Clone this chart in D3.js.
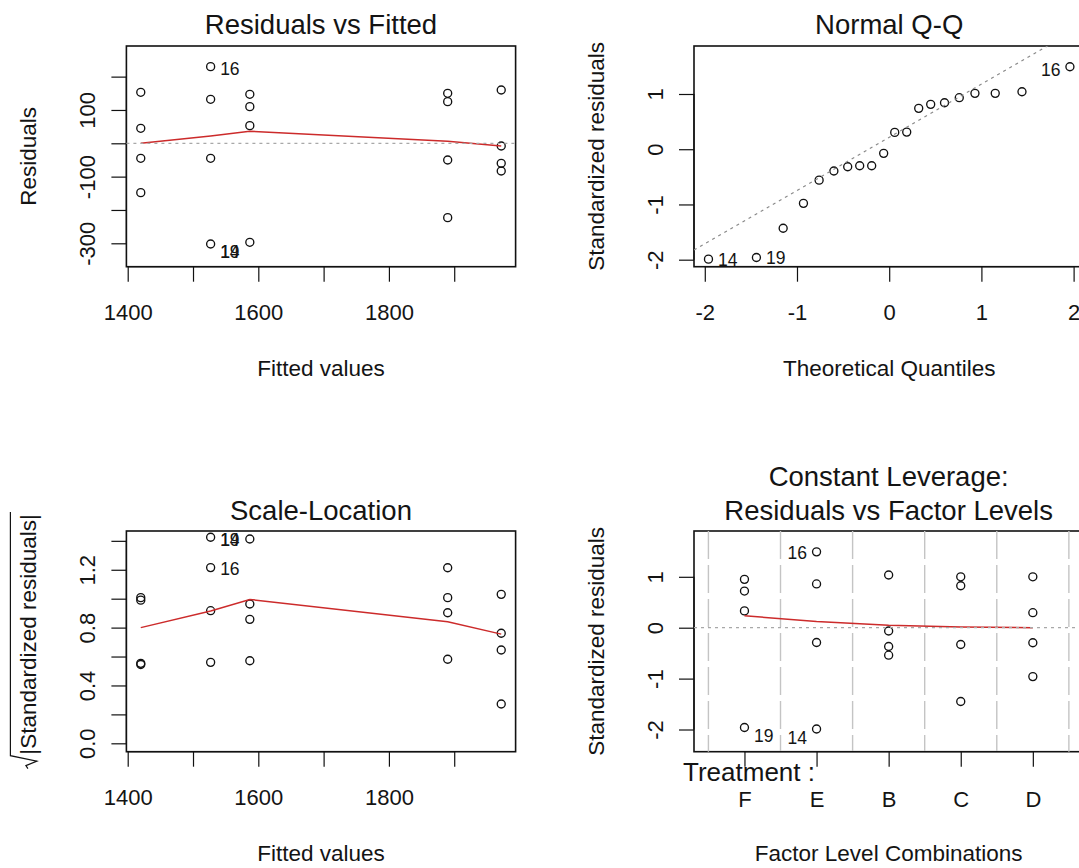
<!DOCTYPE html>
<html><head><meta charset="utf-8">
<script src="https://cdn.jsdelivr.net/npm/d3@7"></script>
<style>
body{margin:0;background:#fff}
svg{display:block}
text{font-family:"Liberation Sans",Arial,sans-serif;fill:#141414}
</style>
</head><body>
<svg id="chart" width="1079" height="868"></svg>
<script>
// ---------------- data ----------------
const treatments = ["F", "E", "B", "C", "D"];
const fittedByTreatment = [1587, 1527, 1972, 1890, 1420];
// raw residuals per treatment (panel "Residuals vs Fitted")
const residualsF = [147, 110, 53, -297];
const residualsE = [230, 132, -45, -302];
const residualsB = [160, -8, -60, -83];
const residualsC = [150, 125, -50, -223];
const residualsD = [153, 45, -45, -148];
// standardized residuals per treatment (panel "Residuals vs Factor Levels")
const stdResF = [0.95, 0.72, 0.33, -1.96];
const stdResE = [1.49, 0.86, -0.29, -1.99];
const stdResB = [1.035, -0.065, -0.37, -0.54];
const stdResC = [1.0, 0.825, -0.33, -1.45];
const stdResD = [1.0, 0.295, -0.295, -0.96];
// sqrt(|standardized residuals|) per treatment (panel "Scale-Location")
const sqrtStdF = [1.413, 0.963, 0.857, 0.571];
const sqrtStdE = [1.425, 1.215, 0.917, 0.56];
const sqrtStdB = [1.03, 0.761, 0.645, 0.272];
const sqrtStdC = [1.214, 1.007, 0.903, 0.581];
const sqrtStdD = [1.007, 0.99, 0.553, 0.545];
// Normal Q-Q
const qqTheoretical = [-1.96, -1.44, -1.15, -0.93, -0.76, -0.6, -0.45, -0.32, -0.19, -0.06,
                       0.06, 0.19, 0.32, 0.45, 0.6, 0.76, 0.93, 1.15, 1.44, 1.96];
const qqSample = [-1.99, -1.96, -1.43, -0.98, -0.56, -0.395, -0.317, -0.3, -0.3, -0.075,
                  0.305, 0.31, 0.74, 0.813, 0.842, 0.933, 1.012, 1.012, 1.04, 1.494];
const qqLineIntercept = 0.215;
const qqLineSlope = 0.963;
// lowess smoother vertices
const smoothX = [1420, 1527, 1587, 1890, 1972];
const smoothResid = [0, 22, 36, 6, -8];
const smoothScale = [0.80, 0.915, 0.995, 0.84, 0.755];
const smoothFactor = [0.235, 0.12, 0.05, 0.012, 0.0];
// point labels: id, x (data), y (data, label centre), side
const labelsResid = [["16", 1527, 225, "r"], ["14", 1527, -325, "r"], ["19", 1527, -325, "r"]];
const labelsQQ = [["14", -1.96, -2.006, "r"], ["19", -1.44, -1.957, "r"], ["16", 1.96, 1.434, "l"]];
const labelsScale = [["14", 1527, 1.406, "r"], ["19", 1527, 1.406, "r"], ["16", 1527, 1.21, "r"]];
const labelsFactor = [["16", 1, 1.468, "l"], ["19", 0, -2.12, "r"], ["14", 1, -2.153, "l"]];
// ticks
const fittedTicks = [1400, 1500, 1600, 1700, 1800, 1900];
const fittedTickLabels = ["1400", "", "1600", "", "1800", ""];
const residTicks = [-300, -200, -100, 0, 100, 200];
const residTickLabels = ["-300", "", "-100", "", "100", ""];
const qqXTicks = [-2, -1, 0, 1, 2];
const qqXTickLabels = ["-2", "-1", "0", "1", "2"];
const stdTicks = [-2, -1, 0, 1];
const stdTickLabels = ["-2", "-1", "0", "1"];
const scaleTicks = [0, 0.2, 0.4, 0.6, 0.8, 1.0, 1.2, 1.4];
const scaleTickLabels = ["0.0", "", "0.4", "", "0.8", "", "1.2", ""];

// ---------------- drawing ----------------
const svg = d3.select("#chart");
const AXIS_FS = 22, LAB_FS = 22.5, TITLE_FS = 27.5, ID_FS = 17.5;

function makePanel(box, xDom, yDom) {
  const g = svg.append("g");
  const x = d3.scaleLinear().domain(xDom).range([box.x0, box.x1]);
  const y = d3.scaleLinear().domain(yDom).range([box.y1, box.y0]);
  const id = "clip" + Math.round(box.x0) + "_" + Math.round(box.y0);
  svg.append("clipPath").attr("id", id).append("rect")
    .attr("x", box.x0).attr("y", box.y0).attr("width", box.x1 - box.x0).attr("height", box.y1 - box.y0);
  return {g, x, y, box, clip: "url(#" + id + ")"};
}

function drawBox(p) {
  p.g.append("rect").attr("x", p.box.x0).attr("y", p.box.y0)
    .attr("width", p.box.x1 - p.box.x0).attr("height", p.box.y1 - p.box.y0)
    .attr("fill", "none").attr("stroke", "#111").attr("stroke-width", 1.6);
}

function drawXAxis(p, ticks, labels, labelY) {
  const ax = d3.axisBottom(p.x).tickValues(ticks).tickSize(15).tickSizeOuter(0)
    .tickFormat((d, i) => labels[i]);
  const a = p.g.append("g").attr("transform", `translate(0,${p.box.y1})`).call(ax);
  a.select(".domain").remove();
  a.append("line").attr("x1", p.x(ticks[0])).attr("x2", p.x(ticks[ticks.length - 1]))
    .attr("stroke", "#111").attr("stroke-width", 1.2);
  a.selectAll(".tick line").attr("stroke", "#111").attr("stroke-width", 1.2);
  a.selectAll(".tick text").attr("y", labelY || 53.5).attr("dy", null)
    .style("font-size", AXIS_FS + "px").attr("fill", "#141414")
    .style("font-family", '"Liberation Sans", Arial, sans-serif');
  return a;
}

function drawYAxis(p, ticks, labels) {
  const ax = d3.axisLeft(p.y).tickValues(ticks).tickSize(15).tickSizeOuter(0)
    .tickFormat((d, i) => labels[i]);
  const a = p.g.append("g").attr("transform", `translate(${p.box.x0},0)`).call(ax);
  a.select(".domain").remove();
  a.append("line").attr("y1", p.y(ticks[0])).attr("y2", p.y(ticks[ticks.length - 1]))
    .attr("stroke", "#111").attr("stroke-width", 1.2);
  a.selectAll(".tick line").attr("stroke", "#111").attr("stroke-width", 1.2);
  a.selectAll(".tick text").attr("x", null).attr("dy", null)
    .attr("text-anchor", "middle").attr("transform", "translate(-31.5,0) rotate(-90)")
    .style("font-size", AXIS_FS + "px").attr("fill", "#141414")
    .style("font-family", '"Liberation Sans", Arial, sans-serif');
}

function drawTitle(p, lines, baseY) {
  const cx = (p.box.x0 + p.box.x1) / 2;
  lines.forEach((t, i) => {
    p.g.append("text").attr("x", cx).attr("y", baseY - (lines.length - 1 - i) * 34.5)
      .attr("text-anchor", "middle").style("font-size", TITLE_FS + "px").text(t);
  });
}

function drawXLabel(p, t, baseY) {
  p.g.append("text").attr("x", (p.box.x0 + p.box.x1) / 2).attr("y", baseY)
    .attr("text-anchor", "middle").style("font-size", LAB_FS + "px").text(t);
}
function drawYLabel(p, t) {
  const cy = (p.box.y0 + p.box.y1) / 2;
  p.g.append("text").attr("transform", `translate(${p.box.x0 - 90.5},${cy}) rotate(-90)`)
    .attr("text-anchor", "middle").style("font-size", LAB_FS + "px").text(t);
}

function drawPoints(p, xs, ys) {
  p.g.append("g").selectAll("circle").data(d3.zip(xs, ys)).join("circle")
    .attr("cx", d => p.x(d[0])).attr("cy", d => p.y(d[1])).attr("r", 4)
    .attr("fill", "none").attr("stroke", "#111").attr("stroke-width", 1.35);
}

function drawSmooth(p, xs, ys) {
  const line = d3.line().x(d => p.x(d[0])).y(d => p.y(d[1]));
  p.g.append("path").datum(d3.zip(xs, ys)).attr("d", line)
    .attr("fill", "none").attr("stroke", "#cc2b2b").attr("stroke-width", 1.5);
}

function drawZero(p) {
  p.g.append("line").attr("x1", p.box.x0).attr("x2", p.box.x1)
    .attr("y1", p.y(0)).attr("y2", p.y(0))
    .attr("stroke", "#a8a8a8").attr("stroke-width", 1.2).attr("stroke-dasharray", "3,4");
}

function drawIds(p, labels) {
  p.g.append("g").selectAll("text").data(labels).join("text")
    .attr("x", d => p.x(d[1]) + (d[3] === "r" ? 9.5 : -9.5))
    .attr("y", d => p.y(d[2])).attr("dy", "0.36em")
    .attr("text-anchor", d => d[3] === "r" ? "start" : "end")
    .style("font-size", ID_FS + "px").attr("fill", "#2a2a2a").text(d => d[0]);
}

function byTreatment(xsPerGroup, groups) {
  const xs = [], ys = [];
  groups.forEach((arr, i) => arr.forEach(v => { xs.push(xsPerGroup[i]); ys.push(v); }));
  return [xs, ys];
}

// ---- Panel 1: Residuals vs Fitted
const p1 = makePanel({x0: 126.4, x1: 515.6, y0: 46, y1: 266.7}, [1398, 1994], [-370.2, 291.9]);
drawBox(p1);
drawXAxis(p1, fittedTicks, fittedTickLabels);
drawYAxis(p1, residTicks, residTickLabels);
drawTitle(p1, ["Residuals vs Fitted"], 34);
drawXLabel(p1, "Fitted values", 376);
drawYLabel(p1, "Residuals");
{
  const [xs, ys] = byTreatment(fittedByTreatment, [residualsF, residualsE, residualsB, residualsC, residualsD]);
  drawPoints(p1, xs, ys);
}
drawSmooth(p1, smoothX, smoothResid);
drawZero(p1);
drawIds(p1, labelsResid);

// ---- Panel 2: Normal Q-Q
const p2 = makePanel({x0: 694, x1: 1084.4, y0: 46, y1: 266.7}, [-2.117, 2.117], [-2.127, 1.869]);
drawBox(p2);
drawXAxis(p2, qqXTicks, qqXTickLabels);
drawYAxis(p2, stdTicks, stdTickLabels);
drawTitle(p2, ["Normal Q-Q"], 34);
drawXLabel(p2, "Theoretical Quantiles", 376);
drawYLabel(p2, "Standardized residuals");
drawPoints(p2, qqTheoretical, qqSample);
{
  const xd = p2.x.domain();
  p2.g.append("line").attr("clip-path", p2.clip)
    .attr("x1", p2.x(xd[0])).attr("y1", p2.y(qqLineIntercept + qqLineSlope * xd[0]))
    .attr("x2", p2.x(xd[1])).attr("y2", p2.y(qqLineIntercept + qqLineSlope * xd[1]))
    .attr("stroke", "#8a8a8a").attr("stroke-width", 1.2).attr("stroke-dasharray", "3,4");
}
drawIds(p2, labelsQQ);

// ---- Panel 3: Scale-Location
const p3 = makePanel({x0: 126.4, x1: 515.6, y0: 531, y1: 751.7}, [1398, 1994], [-0.058, 1.468]);
drawBox(p3);
drawXAxis(p3, fittedTicks, fittedTickLabels);
drawYAxis(p3, scaleTicks, scaleTickLabels);
drawTitle(p3, ["Scale-Location"], 519.5);
drawXLabel(p3, "Fitted values", 861);
{
  const [xs, ys] = byTreatment(fittedByTreatment, [sqrtStdF, sqrtStdE, sqrtStdB, sqrtStdC, sqrtStdD]);
  drawPoints(p3, xs, ys);
}
drawSmooth(p3, smoothX, smoothScale);
drawIds(p3, labelsScale);
{
  // y label with square-root sign
  const cy = (p3.box.y0 + p3.box.y1) / 2;
  const g = p3.g.append("g").attr("transform", `translate(${p3.box.x0 - 90.5},${cy}) rotate(-90)`);
  const t = g.append("text").style("font-size", LAB_FS + "px").text("|Standardized residuals|");
  const tw = t.node().getComputedTextLength();
  const radW = 14;
  const total = radW + tw;
  const s = -total / 2;
  t.attr("x", s + radW).attr("y", 0);
  g.append("path")
    .attr("d", `M${s},-8 L${s + 3},-10 L${s + 7.5},1 L${s + radW - 1},-25.5 L${s + total + 2},-25.5`)
    .attr("fill", "none").attr("stroke", "#141414").attr("stroke-width", 1.2);
}

// ---- Panel 4: Constant Leverage: Residuals vs Factor Levels
const p4 = makePanel({x0: 694, x1: 1083.3, y0: 531, y1: 751.7}, [-0.7, 4.7], [-2.436, 1.9]);
drawBox(p4);
{
  const bounds = d3.range(treatments.length + 1).map(i => i - 0.5);
  p4.g.append("g").selectAll("line").data(bounds).join("line")
    .attr("x1", d => p4.x(d)).attr("x2", d => p4.x(d))
    .attr("y1", p4.box.y0).attr("y2", p4.box.y1)
    .attr("stroke", "#c4c4c4").attr("stroke-width", 1.4).attr("stroke-dasharray", "28,6");
}
drawXAxis(p4, d3.range(treatments.length), treatments, 55);
drawYAxis(p4, stdTicks, stdTickLabels);
drawTitle(p4, ["Constant Leverage:", "Residuals vs Factor Levels"], 520);
drawXLabel(p4, "Factor Level Combinations", 861);
drawYLabel(p4, "Standardized residuals");
p4.g.append("text").attr("x", 683).attr("y", 780.5).style("font-size", "26px").text("Treatment :");
{
  const [xs, ys] = byTreatment(d3.range(treatments.length), [stdResF, stdResE, stdResB, stdResC, stdResD]);
  drawPoints(p4, xs, ys);
}
drawSmooth(p4, d3.range(treatments.length), smoothFactor);
drawZero(p4);
drawIds(p4, labelsFactor);
</script>
</body></html>
